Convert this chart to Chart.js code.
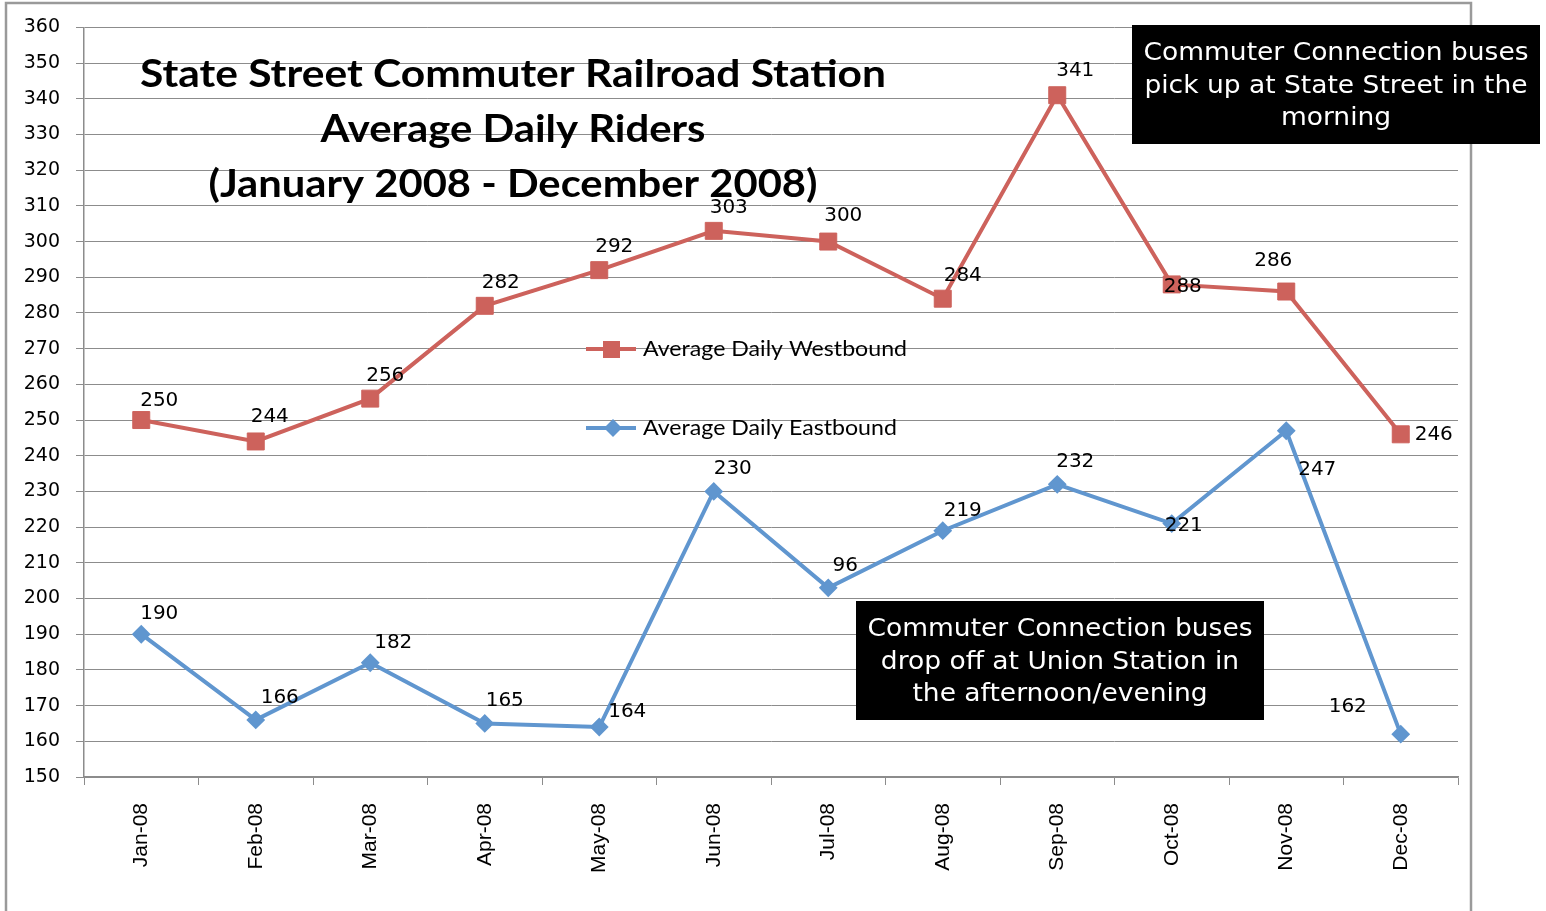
<!DOCTYPE html>
<html><head><meta charset="utf-8">
<script src="https://cdn.jsdelivr.net/npm/chart.js@4.4.1/dist/chart.umd.min.js"></script>
<style>html,body{margin:0;padding:0;background:#fff;overflow:hidden}</style>
</head><body>
<canvas id="c" width="1546" height="911"></canvas>
<script>
// ---------- data ----------
const months = ['Jan-08','Feb-08','Mar-08','Apr-08','May-08','Jun-08','Jul-08','Aug-08','Sep-08','Oct-08','Nov-08','Dec-08'];
const westbound = [250,244,256,282,292,303,300,284,341,288,286,246];
const eastbound = [190,166,182,165,164,230,203,219,232,221,247,162];
const westLabels = ['250','244','256','282','292','303','300','284','341','288','286','246'];
const eastLabels = ['190','166','182','165','164','230','96','219','232','221','247','162'];
const yMin = 150, yMax = 360, yStep = 10;
const seriesNames = ['Average Daily Westbound','Average Daily Eastbound'];
const titleLines = ['State Street Commuter Railroad Station','Average Daily Riders','(January 2008 - December 2008)'];
const noteMorning = ['Commuter Connection buses','pick up at State Street in the','morning'];
const noteEvening = ['Commuter Connection buses','drop off at Union Station in','the afternoon/evening'];

// ---------- styling / placement ----------
const RED = '#CD625C', BLUE = '#6096CF', GRID = '#8c8c8c';
const westOff = [[18,-19],[14,-25],[15,-23],[16,-23],[15,-23],[15,-23],[15,-26],[20,-23],[18,-24],[11,2],[-13,-31],[33,0]];
const eastOff = [[18,-20],[24,-22],[23,-20],[20,-23],[28,-15],[19,-23],[17,-22],[20,-20],[18,-23],[12,2],[31,39],[-53,-27]];

function drawScaled(ctx, text, x, y, sx, align) {
  ctx.save(); ctx.translate(x, y); ctx.scale(sx, 1);
  ctx.textAlign = align || 'center'; ctx.textBaseline = 'alphabetic';
  ctx.fillText(text, 0, 0); ctx.restore();
}

const decor = {
  id: 'decor',
  beforeDraw(chart) {
    const ctx = chart.ctx;
    ctx.save();
    ctx.fillStyle = '#fff'; ctx.fillRect(0, 0, chart.width, chart.height);
    ctx.strokeStyle = '#9a9a9a'; ctx.lineWidth = 2.5;
    ctx.strokeRect(6, 3, 1465, 940);
    ctx.restore();
  },
  afterDatasetsDraw(chart) {
    const ctx = chart.ctx;
    ctx.save();
    // data labels
    ctx.fillStyle = '#000';
    ctx.font = '20px "DejaVu Sans"';
    [[westLabels, westOff], [eastLabels, eastOff]].forEach(([labs, offs], di) => {
      const meta = chart.getDatasetMeta(di);
      meta.data.forEach((pt, i) => {
        ctx.textAlign = 'center'; ctx.textBaseline = 'middle';
        ctx.fillText(labs[i], pt.x + offs[i][0], pt.y + offs[i][1]);
      });
    });
    // title
    ctx.fillStyle = '#000';
    ctx.font = 'bold 38px Lato';
    const tW = [746, 385, 609], tY = [87, 142, 197];
    titleLines.forEach((t, i) => {
      const w = ctx.measureText(t).width;
      drawScaled(ctx, t, 513, tY[i], tW[i] / w);
    });
    // legend
    const legY = [349, 428], cols = [RED, BLUE];
    ctx.font = '21px Lato';
    const lsx = 264 / ctx.measureText(seriesNames[0]).width;
    legY.forEach((y, i) => {
      ctx.strokeStyle = cols[i]; ctx.lineWidth = 4;
      ctx.beginPath(); ctx.moveTo(586, y); ctx.lineTo(636, y); ctx.stroke();
      ctx.fillStyle = cols[i];
      if (i === 0) { ctx.fillRect(603, y - 8, 17, 17); }
      else { ctx.beginPath(); ctx.moveTo(613 - 9, y); ctx.lineTo(613, y - 9); ctx.lineTo(613 + 9, y); ctx.lineTo(613, y + 9); ctx.closePath(); ctx.fill(); }
      ctx.fillStyle = '#000';
      drawScaled(ctx, seriesNames[i], 643, y + 7, lsx, 'left');
    });
    // note boxes
    const boxes = [[1132, 25, 408, 119, noteMorning], [856, 601, 408, 119, noteEvening]];
    ctx.font = '24px "DejaVu Sans"';
    boxes.forEach(([x, y, w, h, lines]) => {
      ctx.fillStyle = '#000'; ctx.fillRect(x, y, w, h);
      const sx = 385 / ctx.measureText(lines[0]).width;
      ctx.fillStyle = '#fff';
      lines.forEach((ln, i) => drawScaled(ctx, ln, x + w / 2, y + 35 + i * 32.5, sx));
    });
    ctx.restore();
  }
};

new Chart(document.getElementById('c'), {
  type: 'line',
  data: {
    labels: months,
    datasets: [
      { label: seriesNames[0], data: westbound, borderColor: RED, backgroundColor: RED,
        borderWidth: 4, pointStyle: 'rect', pointRadius: 12, pointBorderWidth: 1,
        pointBackgroundColor: RED, pointBorderColor: RED, tension: 0 },
      { label: seriesNames[1], data: eastbound, borderColor: BLUE, backgroundColor: BLUE,
        borderWidth: 4, pointStyle: 'rectRot', pointRadius: 8, pointBorderWidth: 2,
        pointBackgroundColor: BLUE, pointBorderColor: BLUE, tension: 0 }
    ]
  },
  options: {
    responsive: false, animation: false, devicePixelRatio: 1,
    layout: { padding: { top: 24, right: 88, left: 0, bottom: 0 } },
    plugins: { legend: { display: false }, title: { display: false }, tooltip: { enabled: false } },
    scales: {
      x: {
        offset: true,
        grid: { offset: true, drawOnChartArea: false, drawTicks: true, tickLength: 8, color: GRID, lineWidth: 1 },
        border: { color: GRID, width: 1.5 },
        ticks: { autoSkip: false, minRotation: 90, maxRotation: 90, padding: 18, color: '#000',
                 font: { family: 'Liberation Sans', size: 21 } },
        afterFit(s) { s.height = 134; }
      },
      y: {
        min: yMin, max: yMax,
        grid: { color: GRID, lineWidth: 1, tickLength: 8 },
        border: { color: GRID, width: 1.5 },
        ticks: { stepSize: yStep, padding: 16, color: '#000', font: { family: 'DejaVu Sans', size: 19 } },
        afterFit(s) { s.width = 84; }
      }
    }
  },
  plugins: [decor]
});
</script>
</body></html>
